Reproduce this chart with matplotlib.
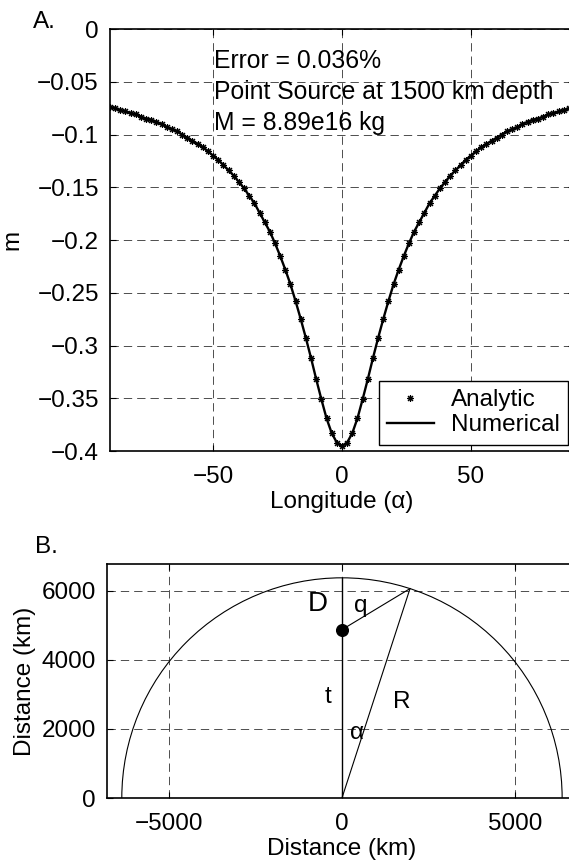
import matplotlib.pyplot as plt
from matplotlib.patches import Arc

plt.rcParams['font.family'] = ['Liberation Sans', 'DejaVu Sans']
plt.rcParams['font.size'] = 17.5
plt.rcParams['lines.scale_dashes'] = False

# --- panel A: potential perturbation of a point source ---
longitude = list(range(-90, 92, 2))
m_analytic = [
    -0.074, -0.075, -0.077, -0.078, -0.080, -0.081, -0.083, -0.085, -0.086, -0.088,
    -0.090, -0.093, -0.095, -0.097, -0.100, -0.103, -0.106, -0.109, -0.112, -0.116,
    -0.120, -0.124, -0.129, -0.134, -0.139, -0.145, -0.151, -0.158, -0.165, -0.174,
    -0.183, -0.192, -0.203, -0.215, -0.228, -0.242, -0.258, -0.275, -0.293, -0.312,
    -0.332, -0.351, -0.369, -0.383, -0.392, -0.395,
    -0.392, -0.383, -0.369, -0.351, -0.332,
    -0.312, -0.293, -0.275, -0.258, -0.242, -0.228, -0.215, -0.203, -0.192, -0.183,
    -0.174, -0.165, -0.158, -0.151, -0.145, -0.139, -0.134, -0.129, -0.124, -0.120,
    -0.116, -0.112, -0.109, -0.106, -0.103, -0.100, -0.097, -0.095, -0.093, -0.090,
    -0.088, -0.086, -0.085, -0.083, -0.081, -0.080, -0.078, -0.077, -0.075, -0.074,
]
# numerical result agrees with the analytic one to 0.036 %
m_numerical = list(m_analytic)

top_xticks = [-50, 0, 50]
top_xticklabels = ['\u221250', '0', '50']
top_yticks = [0, -0.05, -0.1, -0.15, -0.2, -0.25, -0.3, -0.35, -0.4]
top_yticklabels = ['0', '\u22120.05', '\u22120.1', '\u22120.15', '\u22120.2',
                   '\u22120.25', '\u22120.3', '\u22120.35', '\u22120.4']
notes = ['Error = 0.036%', 'Point Source at 1500 km depth', 'M = 8.89e16 kg']
notes_y = [-0.037, -0.0668, -0.0957]

# --- panel B: geometry sketch ---
earth_radius = 6371
source_depth = 1500
surface_x, surface_y = 1969, 6059

bot_xticks = [-5000, 0, 5000]
bot_xticklabels = ['\u22125000', '0', '5000']
bot_yticks = [0, 2000, 4000, 6000]
bot_yticklabels = ['0', '2000', '4000', '6000']

grid_style = dict(linestyle=(0, (6.0, 3.6)), color='0.3', linewidth=0.7)


def style_axes(ax):
    ax.grid(True, **grid_style)
    ax.set_axisbelow(True)
    ax.tick_params(direction='in', length=4, width=0.8, top=True, right=True)
    for sp in ax.spines.values():
        sp.set_linewidth(1.2)


fig = plt.figure(figsize=(5.69, 8.66), dpi=100)

# A.
ax1 = fig.add_axes([0.1933, 0.4792, 0.8155, 0.4873])
ax1.plot(longitude, m_numerical, color='k', linewidth=1.7, label='Numerical')
ax1.plot(longitude, m_analytic, linestyle='none', marker=(8, 2, 0), markersize=5,
         markeredgewidth=0.8, color='k', label='Analytic')
ax1.set_xlim(-90, 90)
ax1.set_ylim(-0.4, 0)
ax1.set_xticks(top_xticks)
ax1.set_xticklabels(top_xticklabels)
ax1.set_yticks(top_yticks)
ax1.set_yticklabels(top_yticklabels)
style_axes(ax1)
ax1.tick_params(axis='x', pad=11)
ax1.tick_params(axis='y', pad=8)
ax1.set_xlabel('Longitude (\u03b1)', labelpad=2)
ax1.set_ylabel('m', labelpad=10)
for txt, ty in zip(notes, notes_y):
    ax1.text(-49.5, ty, txt, va='baseline', ha='left', fontsize=17.8)

handles, labels = ax1.get_legend_handles_labels()
leg = ax1.legend(handles[::-1], labels[::-1], loc='lower right', fancybox=False,
                 edgecolor='k', framealpha=1, borderaxespad=0.25, borderpad=0.35,
                 handlelength=1.9, handletextpad=0.7, labelspacing=0.12, numpoints=1)
leg.get_frame().set_linewidth(1.0)

# B.
ax2 = fig.add_axes([0.1880, 0.0785, 0.826, 0.2702])
ax2.add_patch(Arc((0, 0), 2 * earth_radius, 2 * earth_radius, theta1=0, theta2=180,
                  color='k', linewidth=0.8))
ax2.plot([0, 0], [0, earth_radius], color='k', linewidth=1.0)
ax2.plot([0, surface_x], [0, surface_y], color='k', linewidth=0.8)
ax2.plot([0, surface_x], [earth_radius - source_depth, surface_y], color='k', linewidth=0.8)
ax2.plot([0], [earth_radius - source_depth], marker='o', markersize=8.4, color='k')
ax2.text(-708, 5601, 'D', fontsize=20, ha='center', va='center')
ax2.text(550, 5560, 'q', ha='center', va='center')
ax2.text(-416, 2930, 't', ha='center', va='center')
ax2.text(1735, 2776, 'R', ha='center', va='center')
ax2.text(445, 1890, '\u03b1', ha='center', va='center')
ax2.set_xlim(-6800, 6800)
ax2.set_ylim(0, 6770)
ax2.set_xticks(bot_xticks)
ax2.set_xticklabels(bot_xticklabels)
ax2.set_yticks(bot_yticks)
ax2.set_yticklabels(bot_yticklabels)
style_axes(ax2)
ax2.tick_params(axis='x', pad=11)
ax2.tick_params(axis='y', pad=8)
ax2.set_xlabel('Distance (km)', labelpad=2)
ax2.set_ylabel('Distance (km)', labelpad=4)

fig.text(33 / 569, 1 - 28 / 866, 'A.', va='baseline', ha='left')
fig.text(35 / 569, 1 - 553 / 866, 'B.', va='baseline', ha='left')

fig.savefig('out.png', dpi=100, facecolor='white')
